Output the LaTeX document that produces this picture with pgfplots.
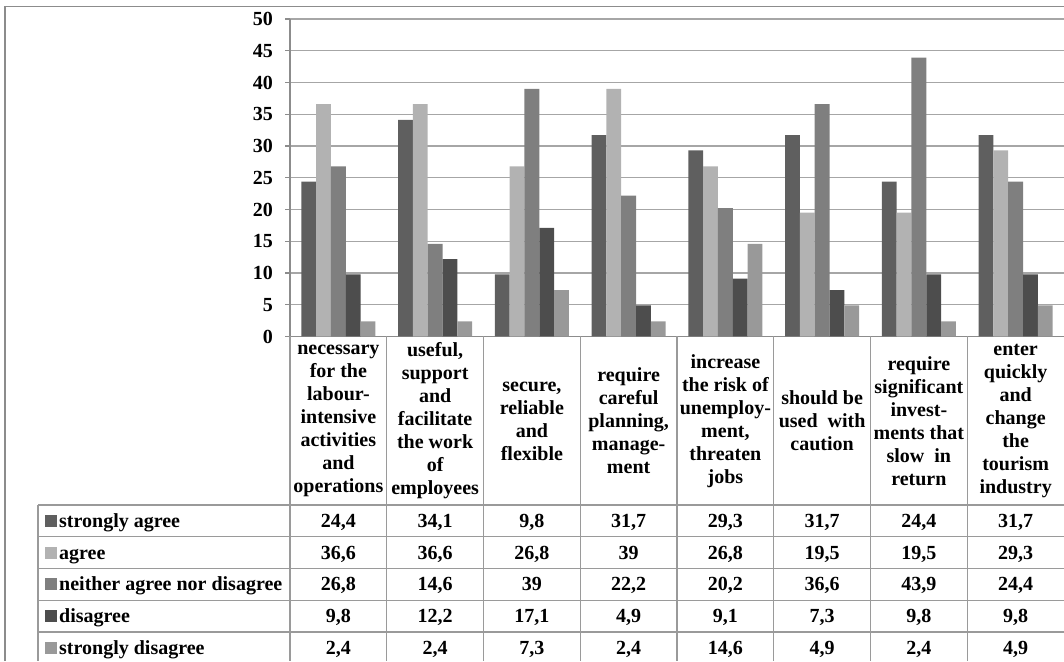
\documentclass[border=0pt]{standalone}
\usepackage{pgfplots}
\pgfplotsset{compat=1.18}
\usepackage{pgfplotstable}
\usepackage{fontspec}
\setmainfont{Liberation Serif}
\definecolor{c1}{HTML}{5F5F5F}
\definecolor{c2}{HTML}{B2B2B2}
\definecolor{c3}{HTML}{7F7F7F}
\definecolor{c4}{HTML}{4D4D4D}
\definecolor{c5}{HTML}{999999}
\definecolor{gridc}{HTML}{A6A6A6}
\definecolor{linec}{HTML}{9A9A9A}
\definecolor{framec}{HTML}{8C8C8C}

\pgfplotstableread{
cat sa a n d sd
0 24.4 36.6 26.8 9.8 2.4
1 34.1 36.6 14.6 12.2 2.4
2 9.8 26.8 39 17.1 7.3
3 31.7 39 22.2 4.9 2.4
4 29.3 26.8 20.2 9.1 14.6
5 31.7 19.5 36.6 7.3 4.9
6 24.4 19.5 43.9 9.8 2.4
7 31.7 29.3 24.4 9.8 4.9
}\datatable

\begin{document}
\fontsize{20}{23}\selectfont\bfseries
\begin{tikzpicture}
% outer frame (left and top)
\draw[framec, line width=1.3pt] (5pt,0pt) -- (5pt,654.5pt) -- (1064pt,654.5pt);

\begin{axis}[
  at={(290pt,324.5pt)}, anchor=south west,
  scale only axis, width=774pt, height=317.5pt,
  xmin=-0.5, xmax=7.5, ymin=0, ymax=50,
  ybar=0pt, bar width=14.8pt,
  axis x line*=bottom, axis y line*=left,
  axis line style={draw=framec, line width=1.2pt, -},
  xtick=\empty,
  ytick={0,5,...,50},
  tick align=outside, major tick length=5pt,
  ytick style={draw=framec, line width=1.2pt},
  ymajorgrids, grid style={draw=gridc, line width=1.1pt},
  yticklabel style={anchor=east, inner sep=0pt, xshift=-12pt},
  /pgf/number format/assume math mode=true,
  clip=false,
]
\addplot[fill=c1, draw=none] table[x=cat, y=sa]{\datatable};
\addplot[fill=c2, draw=none] table[x=cat, y=a]{\datatable};
\addplot[fill=c3, draw=none] table[x=cat, y=n]{\datatable};
\addplot[fill=c4, draw=none] table[x=cat, y=d]{\datatable};
\addplot[fill=c5, draw=none] table[x=cat, y=sd]{\datatable};
\end{axis}

\begin{scope}[x=1pt,y=1pt]
% data table grid
\foreach \yy in {156,124.25,92.5,60.75,29} {
  \draw[linec, line width=1.1pt] (38,\yy) -- (1064,\yy);
}
\draw[linec, line width=1.1pt] (38,156) -- (38,0);
\foreach \k in {0,...,7} {
  \draw[linec, line width=1.1pt] ({290+96.75*\k},324.5) -- ({290+96.75*\k},0);
}

% category labels
\tikzset{catlab/.style={align=center, anchor=center, inner sep=0pt}}
\node[catlab] at (338.375,240) {necessary\\for the\\labour-\\intensive\\activities\\and\\operations};
\node[catlab] at (435.125,240) {useful,\\support\\and\\facilitate\\the work\\of\\employees};
\node[catlab] at (531.875,240) {secure,\\reliable\\and\\flexible};
\node[catlab] at (628.625,240) {require\\careful\\planning,\\manage-\\ment};
\node[catlab] at (725.375,240) {increase\\the risk of\\unemploy-\\ment,\\threaten\\jobs};
\node[catlab] at (822.125,240) {should be\\used\ \ with\\caution};
\node[catlab] at (918.875,240) {require\\significant\\invest-\\ments that\\slow\ \ in\\return};
\node[catlab] at (1015.625,240) {enter\\quickly\\and\\change\\the\\tourism\\industry};

% row labels with keys
\foreach \lab/\col [count=\r from 0] in {strongly agree/c1, agree/c2, neither agree nor disagree/c3, disagree/c4, strongly disagree/c5} {
  \pgfmathsetmacro{\yc}{140.125-31.75*\r}
  \fill[\col] (45,\yc-6) rectangle (57,\yc+6);
  \node[anchor=base west, inner sep=0pt] at (59,\yc-6.5) {\lab};
}

% values
\foreach \colname [count=\r from 0] in {sa,a,n,d,sd} {
  \foreach \i in {0,...,7} {
    \pgfplotstablegetelem{\i}{\colname}\of\datatable
    \pgfmathsetmacro{\yc}{140.125-31.75*\r}
    \pgfmathsetmacro{\xc}{338.375+96.75*\i}
    \node[anchor=base, inner sep=0pt] at (\xc,\yc-6.5) {\pgfmathprintnumber[use comma, fixed, precision=1, assume math mode=true]{\pgfplotsretval}};
  }
}
\end{scope}

\pgfresetboundingbox
\path[use as bounding box] (0pt,0pt) rectangle (1064pt,661pt);
\end{tikzpicture}
\end{document}
